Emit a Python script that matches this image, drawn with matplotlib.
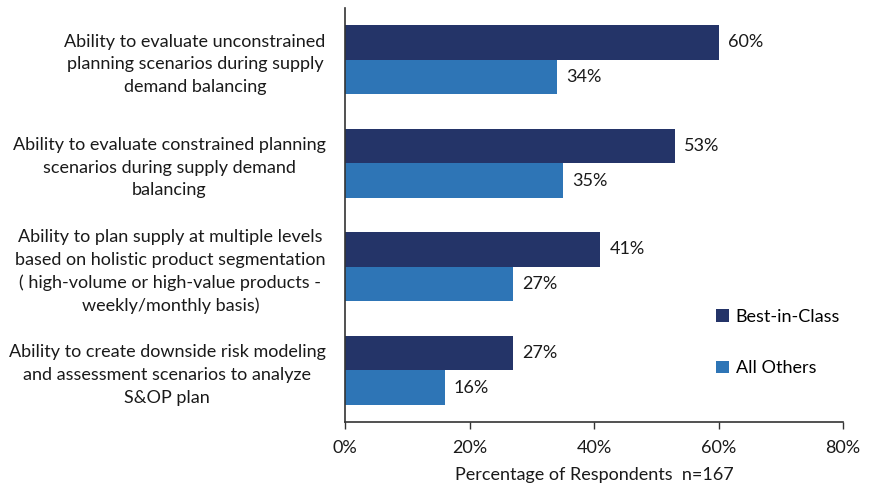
import matplotlib
matplotlib.use("Agg")
import matplotlib.pyplot as plt
from matplotlib.patches import Patch

plt.rcParams['font.family'] = ['Lato', 'DejaVu Sans']

categories = [
    "Ability to evaluate unconstrained\nplanning scenarios during supply\ndemand balancing",
    "Ability to evaluate constrained planning\nscenarios during supply demand\nbalancing",
    "Ability to plan supply at multiple levels\nbased on holistic product segmentation\n( high-volume or high-value products -\nweekly/monthly basis)",
    "Ability to create downside risk modeling\nand assessment scenarios to analyze\nS&OP plan",
]
best_in_class = [60, 53, 41, 27]
all_others = [34, 35, 27, 16]
series_names = ["Best-in-Class", "All Others"]
xticks = [0, 20, 40, 60, 80]
xlabel = "Percentage of Respondents  n=167"

dark = "#243468"
light = "#2E75B6"
text_color = "#1a1a1a"
fs = 13

fig = plt.figure(figsize=(8.71, 4.87), dpi=100)
ax = fig.add_axes([345/871, 1 - 422/487, (843-345)/871, (422-8)/487])

h = 0.335
y = list(range(len(categories)))
ax.barh([v - h/2 for v in y], best_in_class, height=h, color=dark)
ax.barh([v + h/2 for v in y], all_others, height=h, color=light)

for yi, b, a in zip(y, best_in_class, all_others):
    ax.text(b + 1.5, yi - h/2, f"{b}%", va="center", ha="left", fontsize=fs, color=text_color)
    ax.text(a + 1.5, yi + h/2, f"{a}%", va="center", ha="left", fontsize=fs, color=text_color)

ax.set_xlim(0, 80)
ax.set_ylim(3.5, -0.5)
ax.set_xticks(xticks)
ax.set_xticklabels([f"{t}%" for t in xticks], fontsize=fs, color=text_color)
ax.set_yticks(y)
ax.set_yticklabels(categories, fontsize=fs, color=text_color, linespacing=1.5)
for lbl in ax.get_yticklabels():
    lbl.set_horizontalalignment("right")
    lbl.set_multialignment("center")
ax.tick_params(axis="y", length=0, pad=14)
ax.tick_params(axis="x", length=5, width=1, color="#333333", pad=8, direction="out")
ax.set_xlabel(xlabel, fontsize=fs, color=text_color, labelpad=8)

for s in ["top", "right"]:
    ax.spines[s].set_visible(False)
for s in ["left", "bottom"]:
    ax.spines[s].set_color("#333333")
    ax.spines[s].set_linewidth(1.2)

handles = [Patch(facecolor=dark), Patch(facecolor=light)]
fig.legend(handles, series_names, loc="upper left", bbox_to_anchor=(716/871, 1 - 309/487),
           frameon=False, fontsize=fs, handlelength=0.7, handleheight=0.7,
           handletextpad=0.4, labelspacing=1.95, borderpad=0, borderaxespad=0)

fig.savefig("out.png", dpi=100)
